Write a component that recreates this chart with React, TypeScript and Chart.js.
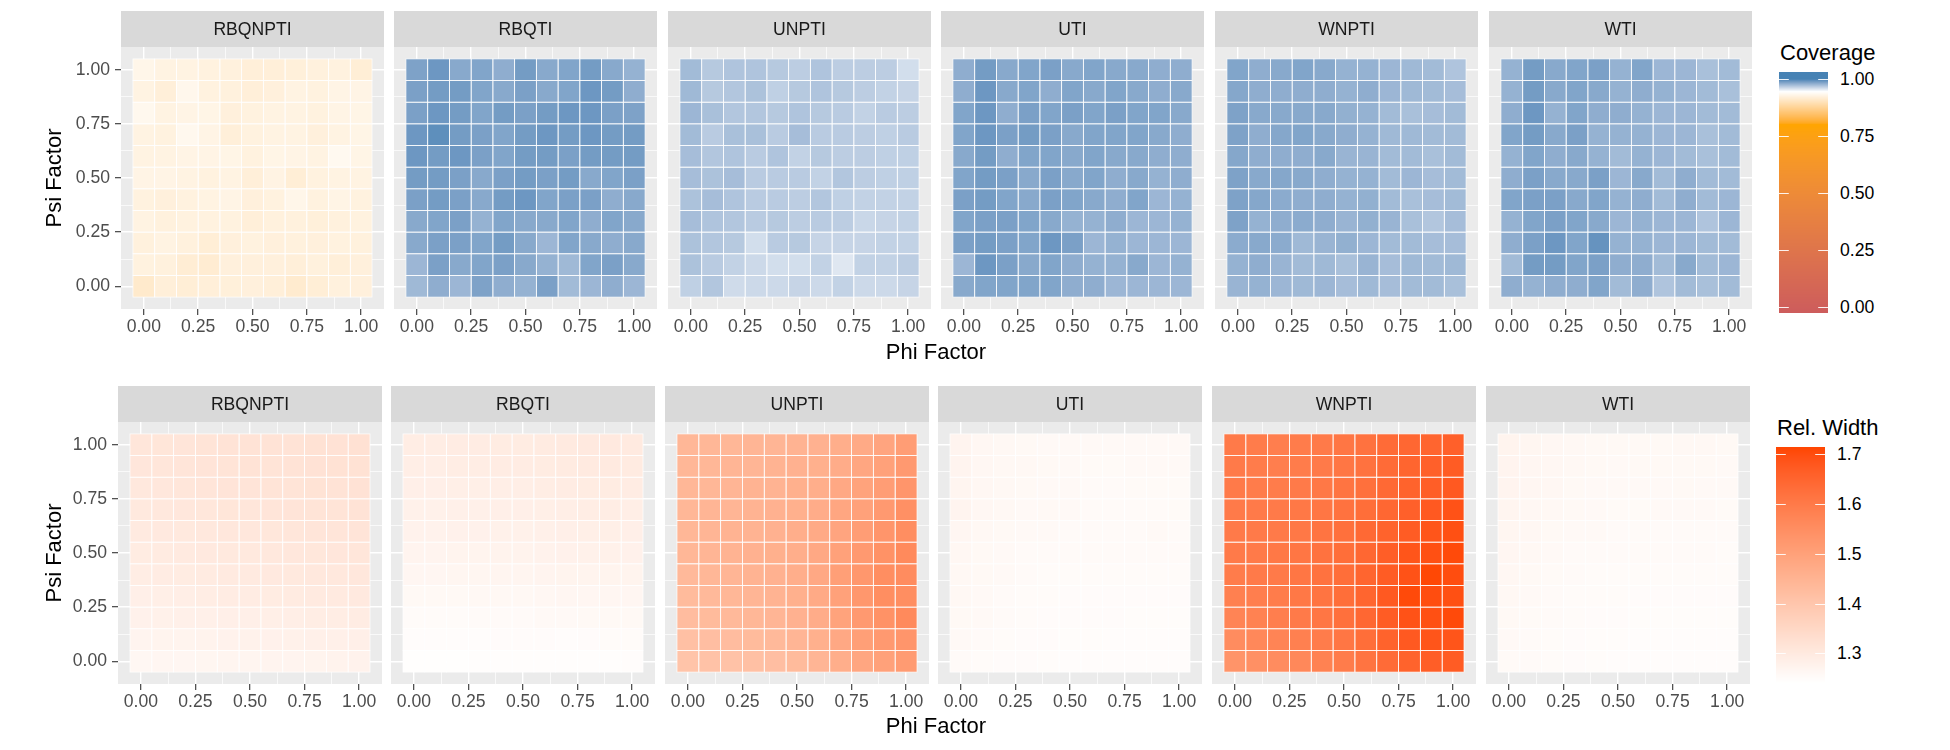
import React, { useEffect, useRef } from 'react';
import { Chart, registerables } from 'chart.js';
Chart.register(...registerables);
Chart.defaults.font.family = '"Liberation Sans", Arial, Helvetica, sans-serif';

// ---------------- data ----------------
const methods = ['RBQNPTI', 'RBQTI', 'UNPTI', 'UTI', 'WNPTI', 'WTI'];
const phiLevels = [0.0, 0.1, 0.2, 0.3, 0.4, 0.5, 0.6, 0.7, 0.8, 0.9, 1.0];
// rows of every grid below go from psi = 1.0 (top) down to psi = 0.0
const psiLevels = [1.0, 0.9, 0.8, 0.7, 0.6, 0.5, 0.4, 0.3, 0.2, 0.1, 0.0];
const axisTicks = [0, 0.25, 0.5, 0.75, 1];
const axisTickLabels = ['0.00', '0.25', '0.50', '0.75', '1.00'];
const minorTicks = [0.125, 0.375, 0.625, 0.875];
const coverageBreaks = [0, 0.25, 0.5, 0.75, 1];
const coverageBreakLabels = ['0.00', '0.25', '0.50', '0.75', '1.00'];
const widthBreaks = [1.3, 1.4, 1.5, 1.6, 1.7];
const widthBreakLabels = ['1.3', '1.4', '1.5', '1.6', '1.7'];

const coverageRBQNPTI = [
  [0.931, 0.926, 0.926, 0.924, 0.923, 0.920, 0.920, 0.921, 0.923, 0.924, 0.918],
  [0.926, 0.920, 0.933, 0.924, 0.923, 0.920, 0.922, 0.926, 0.924, 0.928, 0.928],
  [0.934, 0.926, 0.928, 0.929, 0.922, 0.924, 0.926, 0.926, 0.924, 0.928, 0.929],
  [0.926, 0.924, 0.934, 0.928, 0.920, 0.924, 0.926, 0.926, 0.922, 0.926, 0.929],
  [0.926, 0.926, 0.928, 0.928, 0.929, 0.924, 0.929, 0.928, 0.926, 0.935, 0.929],
  [0.928, 0.928, 0.926, 0.924, 0.926, 0.920, 0.927, 0.918, 0.924, 0.926, 0.926],
  [0.924, 0.922, 0.924, 0.926, 0.928, 0.922, 0.924, 0.931, 0.924, 0.928, 0.924],
  [0.926, 0.923, 0.924, 0.924, 0.924, 0.920, 0.923, 0.923, 0.921, 0.923, 0.924],
  [0.923, 0.926, 0.923, 0.918, 0.922, 0.924, 0.922, 0.923, 0.922, 0.924, 0.923],
  [0.924, 0.923, 0.917, 0.916, 0.922, 0.922, 0.922, 0.920, 0.923, 0.920, 0.922],
  [0.912, 0.920, 0.918, 0.920, 0.921, 0.922, 0.920, 0.914, 0.918, 0.923, 0.922],
];
const coverageRBQTI = [
  [0.985, 0.990, 0.982, 0.984, 0.980, 0.988, 0.982, 0.984, 0.988, 0.982, 0.978],
  [0.986, 0.988, 0.988, 0.984, 0.982, 0.986, 0.982, 0.984, 0.990, 0.988, 0.980],
  [0.986, 0.990, 0.988, 0.984, 0.988, 0.986, 0.988, 0.990, 0.990, 0.986, 0.985],
  [0.990, 0.994, 0.988, 0.986, 0.984, 0.988, 0.990, 0.988, 0.990, 0.988, 0.988],
  [0.990, 0.988, 0.990, 0.986, 0.984, 0.988, 0.988, 0.986, 0.988, 0.988, 0.988],
  [0.988, 0.988, 0.986, 0.982, 0.986, 0.988, 0.986, 0.988, 0.982, 0.984, 0.986],
  [0.986, 0.988, 0.986, 0.982, 0.988, 0.990, 0.984, 0.986, 0.986, 0.980, 0.982],
  [0.982, 0.984, 0.986, 0.978, 0.984, 0.982, 0.982, 0.984, 0.980, 0.984, 0.982],
  [0.982, 0.986, 0.986, 0.984, 0.988, 0.982, 0.976, 0.984, 0.982, 0.980, 0.982],
  [0.976, 0.986, 0.982, 0.984, 0.986, 0.982, 0.978, 0.975, 0.984, 0.986, 0.982],
  [0.975, 0.980, 0.976, 0.985, 0.980, 0.978, 0.986, 0.974, 0.976, 0.980, 0.976],
];
const coverageUNPTI = [
  [0.974, 0.968, 0.970, 0.970, 0.968, 0.966, 0.970, 0.966, 0.966, 0.966, 0.959],
  [0.975, 0.968, 0.969, 0.971, 0.965, 0.968, 0.970, 0.968, 0.966, 0.964, 0.963],
  [0.976, 0.972, 0.969, 0.969, 0.968, 0.970, 0.968, 0.967, 0.964, 0.967, 0.966],
  [0.974, 0.967, 0.972, 0.972, 0.967, 0.973, 0.967, 0.967, 0.966, 0.965, 0.967],
  [0.973, 0.969, 0.970, 0.967, 0.970, 0.964, 0.968, 0.966, 0.966, 0.965, 0.965],
  [0.973, 0.971, 0.973, 0.967, 0.967, 0.967, 0.964, 0.969, 0.966, 0.965, 0.965],
  [0.971, 0.973, 0.970, 0.967, 0.967, 0.966, 0.969, 0.965, 0.964, 0.964, 0.964],
  [0.973, 0.970, 0.969, 0.967, 0.968, 0.966, 0.967, 0.966, 0.962, 0.963, 0.964],
  [0.971, 0.969, 0.968, 0.959, 0.967, 0.968, 0.963, 0.963, 0.963, 0.964, 0.964],
  [0.971, 0.967, 0.964, 0.961, 0.959, 0.959, 0.964, 0.955, 0.964, 0.964, 0.966],
  [0.965, 0.969, 0.960, 0.961, 0.961, 0.963, 0.961, 0.964, 0.961, 0.961, 0.963],
];
const coverageUTI = [
  [0.980, 0.988, 0.982, 0.984, 0.986, 0.982, 0.984, 0.982, 0.982, 0.980, 0.980],
  [0.980, 0.990, 0.982, 0.984, 0.980, 0.984, 0.982, 0.984, 0.982, 0.980, 0.982],
  [0.984, 0.990, 0.980, 0.986, 0.984, 0.986, 0.984, 0.986, 0.984, 0.984, 0.982],
  [0.984, 0.990, 0.986, 0.988, 0.986, 0.982, 0.984, 0.984, 0.984, 0.982, 0.980],
  [0.982, 0.988, 0.980, 0.984, 0.984, 0.982, 0.984, 0.982, 0.982, 0.980, 0.980],
  [0.984, 0.988, 0.986, 0.982, 0.986, 0.982, 0.984, 0.980, 0.982, 0.978, 0.980],
  [0.986, 0.988, 0.984, 0.982, 0.986, 0.984, 0.982, 0.980, 0.984, 0.976, 0.978],
  [0.984, 0.986, 0.986, 0.984, 0.982, 0.978, 0.978, 0.980, 0.976, 0.976, 0.978],
  [0.986, 0.988, 0.986, 0.984, 0.990, 0.986, 0.976, 0.978, 0.976, 0.976, 0.976],
  [0.976, 0.990, 0.986, 0.982, 0.984, 0.980, 0.978, 0.978, 0.982, 0.976, 0.978],
  [0.982, 0.984, 0.984, 0.984, 0.984, 0.980, 0.980, 0.976, 0.976, 0.976, 0.976],
];
const coverageWNPTI = [
  [0.984, 0.980, 0.982, 0.984, 0.982, 0.978, 0.978, 0.976, 0.975, 0.974, 0.970],
  [0.983, 0.980, 0.980, 0.980, 0.980, 0.978, 0.980, 0.976, 0.975, 0.974, 0.973],
  [0.985, 0.982, 0.982, 0.982, 0.982, 0.979, 0.978, 0.974, 0.972, 0.973, 0.974],
  [0.985, 0.980, 0.983, 0.984, 0.982, 0.980, 0.978, 0.975, 0.975, 0.974, 0.974],
  [0.983, 0.980, 0.980, 0.980, 0.982, 0.977, 0.977, 0.974, 0.974, 0.972, 0.974],
  [0.985, 0.982, 0.983, 0.982, 0.980, 0.978, 0.978, 0.974, 0.976, 0.973, 0.974],
  [0.985, 0.983, 0.981, 0.980, 0.980, 0.978, 0.979, 0.974, 0.972, 0.973, 0.974],
  [0.985, 0.978, 0.980, 0.981, 0.980, 0.977, 0.979, 0.977, 0.972, 0.969, 0.973],
  [0.981, 0.982, 0.981, 0.975, 0.977, 0.979, 0.976, 0.974, 0.974, 0.973, 0.973],
  [0.978, 0.980, 0.977, 0.974, 0.975, 0.972, 0.977, 0.973, 0.975, 0.974, 0.975],
  [0.977, 0.978, 0.976, 0.975, 0.976, 0.973, 0.975, 0.973, 0.974, 0.974, 0.972],
];
const coverageWTI = [
  [0.978, 0.988, 0.982, 0.984, 0.986, 0.978, 0.984, 0.976, 0.976, 0.972, 0.974],
  [0.978, 0.988, 0.982, 0.984, 0.982, 0.978, 0.980, 0.978, 0.976, 0.974, 0.972],
  [0.980, 0.990, 0.978, 0.984, 0.980, 0.980, 0.978, 0.976, 0.976, 0.974, 0.974],
  [0.984, 0.988, 0.982, 0.986, 0.978, 0.978, 0.978, 0.976, 0.976, 0.972, 0.974],
  [0.978, 0.984, 0.980, 0.982, 0.978, 0.974, 0.978, 0.976, 0.974, 0.972, 0.974],
  [0.980, 0.986, 0.982, 0.982, 0.986, 0.976, 0.982, 0.974, 0.980, 0.974, 0.974],
  [0.984, 0.986, 0.986, 0.982, 0.984, 0.978, 0.980, 0.974, 0.980, 0.974, 0.976],
  [0.978, 0.984, 0.986, 0.984, 0.982, 0.976, 0.978, 0.976, 0.976, 0.970, 0.976],
  [0.980, 0.986, 0.990, 0.984, 0.992, 0.978, 0.978, 0.976, 0.976, 0.974, 0.974],
  [0.974, 0.988, 0.988, 0.984, 0.986, 0.980, 0.980, 0.974, 0.982, 0.974, 0.976],
  [0.980, 0.978, 0.980, 0.980, 0.984, 0.974, 0.980, 0.970, 0.974, 0.972, 0.974],
];

const widthRBQNPTI = [
  [1.310, 1.311, 1.312, 1.315, 1.318, 1.318, 1.317, 1.318, 1.321, 1.320, 1.323],
  [1.309, 1.310, 1.312, 1.314, 1.316, 1.317, 1.316, 1.318, 1.320, 1.321, 1.322],
  [1.305, 1.307, 1.310, 1.312, 1.314, 1.314, 1.315, 1.316, 1.319, 1.318, 1.320],
  [1.302, 1.304, 1.306, 1.308, 1.311, 1.310, 1.312, 1.314, 1.316, 1.316, 1.318],
  [1.298, 1.300, 1.302, 1.304, 1.306, 1.307, 1.308, 1.310, 1.312, 1.312, 1.314],
  [1.294, 1.296, 1.298, 1.300, 1.302, 1.302, 1.304, 1.306, 1.308, 1.309, 1.310],
  [1.290, 1.292, 1.294, 1.296, 1.298, 1.298, 1.300, 1.302, 1.304, 1.304, 1.306],
  [1.284, 1.286, 1.288, 1.290, 1.292, 1.293, 1.294, 1.296, 1.298, 1.298, 1.300],
  [1.278, 1.280, 1.281, 1.282, 1.284, 1.284, 1.286, 1.288, 1.290, 1.290, 1.292],
  [1.270, 1.272, 1.272, 1.274, 1.276, 1.277, 1.278, 1.280, 1.282, 1.282, 1.284],
  [1.262, 1.264, 1.264, 1.266, 1.268, 1.268, 1.270, 1.270, 1.272, 1.273, 1.275],
];
const widthRBQTI = [
  [1.290, 1.290, 1.292, 1.292, 1.294, 1.294, 1.296, 1.298, 1.300, 1.300, 1.298],
  [1.288, 1.288, 1.290, 1.290, 1.292, 1.292, 1.294, 1.296, 1.298, 1.298, 1.296],
  [1.284, 1.284, 1.286, 1.286, 1.288, 1.288, 1.290, 1.292, 1.294, 1.294, 1.292],
  [1.280, 1.280, 1.282, 1.282, 1.284, 1.284, 1.286, 1.288, 1.290, 1.290, 1.288],
  [1.276, 1.276, 1.278, 1.278, 1.280, 1.280, 1.282, 1.284, 1.286, 1.286, 1.284],
  [1.270, 1.270, 1.272, 1.272, 1.274, 1.274, 1.276, 1.278, 1.280, 1.280, 1.278],
  [1.264, 1.264, 1.266, 1.266, 1.268, 1.268, 1.270, 1.272, 1.272, 1.272, 1.272],
  [1.258, 1.258, 1.258, 1.260, 1.260, 1.260, 1.262, 1.264, 1.264, 1.264, 1.265],
  [1.252, 1.252, 1.252, 1.254, 1.254, 1.254, 1.256, 1.256, 1.258, 1.258, 1.258],
  [1.248, 1.248, 1.248, 1.248, 1.250, 1.250, 1.250, 1.248, 1.250, 1.252, 1.252],
  [1.244, 1.244, 1.244, 1.245, 1.245, 1.245, 1.245, 1.245, 1.246, 1.246, 1.247],
];
const widthUNPTI = [
  [1.440, 1.440, 1.440, 1.445, 1.445, 1.450, 1.455, 1.465, 1.475, 1.490, 1.510],
  [1.440, 1.440, 1.445, 1.445, 1.450, 1.455, 1.460, 1.470, 1.485, 1.500, 1.520],
  [1.440, 1.440, 1.445, 1.450, 1.450, 1.460, 1.465, 1.480, 1.495, 1.510, 1.530],
  [1.440, 1.445, 1.445, 1.450, 1.455, 1.460, 1.470, 1.485, 1.500, 1.520, 1.545],
  [1.440, 1.445, 1.450, 1.450, 1.455, 1.465, 1.475, 1.490, 1.510, 1.530, 1.550],
  [1.440, 1.445, 1.450, 1.455, 1.460, 1.465, 1.480, 1.500, 1.520, 1.540, 1.560],
  [1.435, 1.440, 1.445, 1.450, 1.455, 1.465, 1.480, 1.505, 1.525, 1.550, 1.555],
  [1.430, 1.435, 1.440, 1.445, 1.450, 1.460, 1.475, 1.500, 1.525, 1.550, 1.550],
  [1.425, 1.430, 1.435, 1.440, 1.445, 1.455, 1.470, 1.495, 1.520, 1.540, 1.560],
  [1.415, 1.420, 1.425, 1.430, 1.435, 1.445, 1.460, 1.480, 1.505, 1.520, 1.530],
  [1.405, 1.410, 1.410, 1.415, 1.420, 1.430, 1.445, 1.465, 1.485, 1.500, 1.515],
];
const widthUTI = [
  [1.270, 1.262, 1.260, 1.258, 1.256, 1.256, 1.256, 1.256, 1.256, 1.256, 1.256],
  [1.270, 1.262, 1.260, 1.260, 1.258, 1.256, 1.255, 1.255, 1.256, 1.256, 1.256],
  [1.268, 1.262, 1.260, 1.258, 1.256, 1.256, 1.254, 1.254, 1.255, 1.255, 1.255],
  [1.270, 1.262, 1.260, 1.256, 1.258, 1.256, 1.254, 1.254, 1.254, 1.254, 1.255],
  [1.264, 1.260, 1.258, 1.256, 1.256, 1.254, 1.254, 1.253, 1.254, 1.256, 1.254],
  [1.262, 1.258, 1.256, 1.254, 1.254, 1.253, 1.253, 1.253, 1.253, 1.254, 1.253],
  [1.260, 1.258, 1.256, 1.254, 1.252, 1.252, 1.252, 1.252, 1.252, 1.252, 1.252],
  [1.260, 1.256, 1.254, 1.252, 1.252, 1.250, 1.250, 1.250, 1.250, 1.250, 1.250],
  [1.258, 1.256, 1.254, 1.252, 1.250, 1.250, 1.250, 1.250, 1.249, 1.249, 1.249],
  [1.256, 1.254, 1.252, 1.250, 1.250, 1.249, 1.249, 1.248, 1.248, 1.248, 1.248],
  [1.254, 1.252, 1.250, 1.250, 1.249, 1.248, 1.248, 1.248, 1.247, 1.247, 1.247],
];
const widthWNPTI = [
  [1.600, 1.595, 1.590, 1.595, 1.600, 1.610, 1.620, 1.635, 1.645, 1.650, 1.660],
  [1.600, 1.595, 1.590, 1.595, 1.600, 1.610, 1.620, 1.635, 1.650, 1.660, 1.670],
  [1.600, 1.595, 1.595, 1.600, 1.605, 1.615, 1.625, 1.640, 1.655, 1.665, 1.675],
  [1.600, 1.600, 1.600, 1.605, 1.610, 1.620, 1.630, 1.645, 1.660, 1.675, 1.690],
  [1.600, 1.600, 1.600, 1.605, 1.615, 1.625, 1.640, 1.655, 1.670, 1.685, 1.695],
  [1.600, 1.600, 1.605, 1.610, 1.620, 1.630, 1.645, 1.665, 1.685, 1.695, 1.705],
  [1.595, 1.600, 1.600, 1.610, 1.620, 1.630, 1.650, 1.670, 1.690, 1.710, 1.700],
  [1.585, 1.590, 1.595, 1.605, 1.615, 1.630, 1.650, 1.675, 1.705, 1.700, 1.695],
  [1.575, 1.580, 1.590, 1.600, 1.610, 1.625, 1.645, 1.670, 1.690, 1.695, 1.705],
  [1.555, 1.565, 1.575, 1.585, 1.595, 1.610, 1.630, 1.655, 1.675, 1.685, 1.685],
  [1.535, 1.545, 1.555, 1.565, 1.580, 1.595, 1.615, 1.635, 1.655, 1.665, 1.670],
];
const widthWTI = [
  [1.272, 1.266, 1.262, 1.260, 1.258, 1.258, 1.258, 1.258, 1.260, 1.260, 1.258],
  [1.270, 1.264, 1.262, 1.260, 1.258, 1.257, 1.258, 1.258, 1.258, 1.258, 1.257],
  [1.270, 1.264, 1.262, 1.258, 1.256, 1.256, 1.256, 1.257, 1.258, 1.256, 1.256],
  [1.268, 1.262, 1.260, 1.258, 1.256, 1.255, 1.255, 1.256, 1.256, 1.256, 1.255],
  [1.266, 1.262, 1.258, 1.256, 1.256, 1.254, 1.254, 1.254, 1.254, 1.254, 1.254],
  [1.264, 1.260, 1.257, 1.254, 1.254, 1.253, 1.253, 1.253, 1.253, 1.253, 1.252],
  [1.262, 1.258, 1.255, 1.253, 1.252, 1.252, 1.252, 1.251, 1.251, 1.252, 1.251],
  [1.260, 1.257, 1.254, 1.252, 1.251, 1.251, 1.250, 1.250, 1.250, 1.250, 1.250],
  [1.258, 1.255, 1.253, 1.251, 1.250, 1.250, 1.249, 1.249, 1.249, 1.249, 1.249],
  [1.257, 1.254, 1.252, 1.250, 1.249, 1.249, 1.248, 1.248, 1.248, 1.248, 1.248],
  [1.255, 1.253, 1.251, 1.250, 1.249, 1.248, 1.248, 1.247, 1.247, 1.247, 1.247],
];

const coverageGrids = [coverageRBQNPTI, coverageRBQTI, coverageUNPTI, coverageUTI, coverageWNPTI, coverageWTI];
const widthGrids = [widthRBQNPTI, widthRBQTI, widthUNPTI, widthUTI, widthWNPTI, widthWTI];

// ---------------- colour scales (CIELAB interpolation like ggplot) ----------------
type RGB = [number, number, number];
function toLab([r, g, b]: RGB): RGB {
  const lin = (c: number) => { c /= 255; return c <= 0.04045 ? c / 12.92 : Math.pow((c + 0.055) / 1.055, 2.4); };
  const R = lin(r), G = lin(g), B = lin(b);
  const X = (0.4124 * R + 0.3576 * G + 0.1805 * B) / 0.95047;
  const Y = 0.2126 * R + 0.7152 * G + 0.0722 * B;
  const Z = (0.0193 * R + 0.1192 * G + 0.9505 * B) / 1.08883;
  const f = (t: number) => (t > 0.008856 ? Math.cbrt(t) : 7.787 * t + 16 / 116);
  const fx = f(X), fy = f(Y), fz = f(Z);
  return [116 * fy - 16, 500 * (fx - fy), 200 * (fy - fz)];
}
function fromLab([L, a, b]: RGB): RGB {
  const fy = (L + 16) / 116, fx = fy + a / 500, fz = fy - b / 200;
  const inv = (t: number) => (t * t * t > 0.008856 ? t * t * t : (t - 16 / 116) / 7.787);
  const X = inv(fx) * 0.95047, Y = inv(fy), Z = inv(fz) * 1.08883;
  const r = 3.2406 * X - 1.5372 * Y - 0.4986 * Z;
  const g = -0.9689 * X + 1.8758 * Y + 0.0415 * Z;
  const bb = 0.0557 * X - 0.204 * Y + 1.057 * Z;
  const gam = (c: number) => {
    const v = c <= 0.0031308 ? 12.92 * c : 1.055 * Math.pow(c, 1 / 2.4) - 0.055;
    return Math.max(0, Math.min(255, Math.round(v * 255)));
  };
  return [gam(r), gam(g), gam(bb)];
}
function makeScale(stops: [number, RGB][]) {
  const labs = stops.map(([v, c]) => [v, toLab(c)] as [number, RGB]);
  return (v: number) => {
    if (v <= labs[0][0]) return `rgb(${stops[0][1].join(',')})`;
    for (let i = 1; i < labs.length; i++) {
      if (v <= labs[i][0]) {
        const [v0, c0] = labs[i - 1], [v1, c1] = labs[i];
        const t = (v - v0) / (v1 - v0);
        const c = fromLab([c0[0] + t * (c1[0] - c0[0]), c0[1] + t * (c1[1] - c0[1]), c0[2] + t * (c1[2] - c0[2])]);
        return `rgb(${c.join(',')})`;
      }
    }
    return `rgb(${stops[stops.length - 1][1].join(',')})`;
  };
}
const COV_LIMITS = [-0.026, 1.031];
const WID_LIMITS = [1.24, 1.715];
const coverageColor = makeScale([
  [-0.026, [205, 92, 92]],
  [0.8, [255, 165, 0]],
  [0.945, [255, 255, 255]],
  [1.0, [70, 130, 180]],
  [1.031, [70, 130, 180]],
]);
const widthColor = makeScale([
  [1.24, [255, 255, 255]],
  [1.715, [255, 69, 0]],
]);

// ---------------- layout ----------------
const ROWS = [
  { stripTop: 11, stripH: 36, panelH: 262, left0: 120.5, panelW: 263 },
  { stripTop: 386, stripH: 36, panelH: 262, left0: 117.5, panelW: 264 },
];
const STRIDE = 273.6;
const X_AXIS_H = 32;
const Y_AXIS_W = 72;
const FONT_TXT = 17.6;

function Panel({ row, col, title, grid, colorFn }: any) {
  const ref = useRef<HTMLCanvasElement>(null);
  const g = ROWS[row];
  const yW = col === 0 ? Y_AXIS_W : 0;
  const left = Math.round(g.left0 + col * STRIDE) - yW;
  const width = yW + g.panelW;
  const height = g.stripH + g.panelH + X_AXIS_H;

  useEffect(() => {
    const pts: any[] = [];
    psiLevels.forEach((psi, r) => phiLevels.forEach((phi, c) => pts.push({ x: phi, y: psi, v: grid[r][c] })));
    const isMajor = (v: number) => axisTicks.some((t) => Math.abs(t - v) < 1e-6);
    const tickList = [...axisTicks, ...minorTicks].sort((a, b) => a - b);
    const labelFor = (v: number) => {
      const i = axisTicks.findIndex((t) => Math.abs(t - v) < 1e-6);
      return i >= 0 ? axisTickLabels[i] : '';
    };
    const panelPlugin = {
      id: 'panelDeco',
      beforeDraw(chart: any) {
        const { ctx, chartArea: a } = chart;
        ctx.save();
        ctx.fillStyle = '#EBEBEB';
        ctx.fillRect(a.left, a.top, a.right - a.left, a.bottom - a.top);
        ctx.fillStyle = '#D9D9D9';
        ctx.fillRect(a.left, a.top - g.stripH, a.right - a.left, g.stripH);
        ctx.fillStyle = '#1A1A1A';
        ctx.font = `${FONT_TXT}px "Liberation Sans", Arial, sans-serif`;
        ctx.textAlign = 'center';
        ctx.textBaseline = 'middle';
        ctx.fillText(title, (a.left + a.right) / 2, a.top - g.stripH / 2 + 1);
        ctx.restore();
      },
      beforeDatasetsDraw(chart: any) {
        const { ctx, chartArea: a } = chart;
        const xs = chart.scales.x, ys = chart.scales.y;
        const data = chart.data.datasets[0].data;
        ctx.save();
        ctx.beginPath();
        ctx.rect(a.left, a.top, a.right - a.left, a.bottom - a.top);
        ctx.clip();
        data.forEach((p: any) => {
          const x0 = xs.getPixelForValue(p.x - 0.05), x1 = xs.getPixelForValue(p.x + 0.05);
          const y0 = ys.getPixelForValue(p.y + 0.05), y1 = ys.getPixelForValue(p.y - 0.05);
          ctx.fillStyle = colorFn(p.v);
          ctx.fillRect(x0, y0, x1 - x0, y1 - y0);
        });
        ctx.strokeStyle = 'rgba(255,255,255,0.85)';
        ctx.lineWidth = 0.8;
        data.forEach((p: any) => {
          const x0 = xs.getPixelForValue(p.x - 0.05), x1 = xs.getPixelForValue(p.x + 0.05);
          const y0 = ys.getPixelForValue(p.y + 0.05), y1 = ys.getPixelForValue(p.y - 0.05);
          ctx.strokeRect(x0, y0, x1 - x0, y1 - y0);
        });
        ctx.restore();
      },
    };
    const chart = new Chart(ref.current as HTMLCanvasElement, {
      type: 'scatter',
      data: { datasets: [{ data: pts, pointRadius: 0, pointHoverRadius: 0 }] as any },
      options: {
        animation: false,
        responsive: false,
        maintainAspectRatio: false,
        devicePixelRatio: 1,
        events: [],
        layout: { padding: { top: g.stripH, left: 0, right: 0, bottom: 0 } },
        plugins: { legend: { display: false }, tooltip: { enabled: false } },
        scales: {
          x: {
            type: 'linear',
            min: -0.105,
            max: 1.105,
            afterBuildTicks: (s: any) => { s.ticks = tickList.map((v) => ({ value: v })); },
            afterFit: (s: any) => { s.height = X_AXIS_H; },
            border: { display: false },
            grid: {
              color: '#FFFFFF',
              lineWidth: (c: any) => (c.tick && isMajor(c.tick.value) ? 1.4 : 0.7),
              tickColor: (c: any) => (c.tick && isMajor(c.tick.value) ? '#333333' : 'rgba(0,0,0,0)'),
              tickLength: 6,
              tickWidth: 1.1,
            },
            ticks: {
              autoSkip: false,
              maxRotation: 0,
              padding: 2,
              color: '#4D4D4D',
              font: { size: FONT_TXT },
              callback: (v: any) => labelFor(Number(v)),
            },
          },
          y: {
            type: 'linear',
            min: -0.105,
            max: 1.105,
            afterBuildTicks: (s: any) => { s.ticks = tickList.map((v) => ({ value: v })); },
            afterFit: (s: any) => { s.width = yW; },
            border: { display: false },
            grid: {
              color: '#FFFFFF',
              lineWidth: (c: any) => (c.tick && isMajor(c.tick.value) ? 1.4 : 0.7),
              tickColor: (c: any) => (c.tick && isMajor(c.tick.value) ? '#333333' : 'rgba(0,0,0,0)'),
              tickLength: 6,
              tickWidth: 1.1,
              drawTicks: col === 0,
            },
            ticks: {
              display: col === 0,
              autoSkip: false,
              padding: 5,
              color: '#4D4D4D',
              font: { size: FONT_TXT },
              callback: (v: any) => labelFor(Number(v)),
            },
          },
        },
      } as any,
      plugins: [panelPlugin],
    });
    return () => chart.destroy();
  }, []);

  return (
    <canvas
      ref={ref}
      width={width}
      height={height}
      style={{ position: 'absolute', left, top: g.stripTop, width, height }}
    />
  );
}

function ColorBar({ left, top, width, height, limits, colorFn, breaks, labels, title, titleTop, titleLeft, labelLeft }: any) {
  const ref = useRef<HTMLCanvasElement>(null);
  const yOf = (v: number) => top + height - ((v - limits[0]) / (limits[1] - limits[0])) * height;
  useEffect(() => {
    const ctx = (ref.current as HTMLCanvasElement).getContext('2d')!;
    for (let i = 0; i < height; i++) {
      const v = limits[0] + ((height - i - 0.5) / height) * (limits[1] - limits[0]);
      ctx.fillStyle = colorFn(v);
      ctx.fillRect(0, i, width, 1);
    }
    ctx.strokeStyle = 'rgba(255,255,255,0.9)';
    ctx.lineWidth = 1;
    breaks.forEach((b: number) => {
      const y = Math.round(yOf(b) - top) + 0.5;
      ctx.beginPath();
      ctx.moveTo(0, y); ctx.lineTo(width / 5, y);
      ctx.moveTo(width - width / 5, y); ctx.lineTo(width, y);
      ctx.stroke();
    });
  }, []);
  return (
    <>
      <div style={{ position: 'absolute', left: titleLeft, top: titleTop, fontSize: 22, lineHeight: '26px', color: '#000', whiteSpace: 'nowrap' }}>{title}</div>
      <canvas ref={ref} width={width} height={height} style={{ position: 'absolute', left, top, width, height }} />
      {breaks.map((b: number, i: number) => (
        <div key={i} style={{ position: 'absolute', left: labelLeft, top: yOf(b) - 11, fontSize: FONT_TXT, lineHeight: '22px', color: '#000', whiteSpace: 'nowrap' }}>
          {labels[i]}
        </div>
      ))}
    </>
  );
}

export default function App() {
  const axisTitle: any = { position: 'absolute', fontSize: 22, color: '#000', whiteSpace: 'nowrap', lineHeight: '26px' };
  return (
    <div style={{ position: 'fixed', left: 0, top: 0, width: 1950, height: 750, background: '#fff', fontFamily: '"Liberation Sans", Arial, sans-serif', overflow: 'hidden' }}>
      {methods.map((m, i) => (
        <Panel key={'c' + m} row={0} col={i} title={m} grid={coverageGrids[i]} colorFn={coverageColor} />
      ))}
      {methods.map((m, i) => (
        <Panel key={'w' + m} row={1} col={i} title={m} grid={widthGrids[i]} colorFn={widthColor} />
      ))}
      <div style={{ ...axisTitle, left: 936, top: 352, transform: 'translate(-50%, -50%)' }}>Phi Factor</div>
      <div style={{ ...axisTitle, left: 936, top: 726, transform: 'translate(-50%, -50%)' }}>Phi Factor</div>
      <div style={{ ...axisTitle, left: 54, top: 178, transform: 'translate(-50%, -50%) rotate(-90deg)' }}>Psi Factor</div>
      <div style={{ ...axisTitle, left: 54, top: 553, transform: 'translate(-50%, -50%) rotate(-90deg)' }}>Psi Factor</div>
      <ColorBar left={1779} top={72} width={49} height={241} limits={COV_LIMITS} colorFn={coverageColor}
        breaks={coverageBreaks} labels={coverageBreakLabels} title="Coverage" titleTop={40} titleLeft={1780} labelLeft={1840} />
      <ColorBar left={1776} top={447} width={49} height={236} limits={WID_LIMITS} colorFn={widthColor}
        breaks={widthBreaks} labels={widthBreakLabels} title="Rel. Width" titleTop={415} titleLeft={1777} labelLeft={1837} />
    </div>
  );
}
